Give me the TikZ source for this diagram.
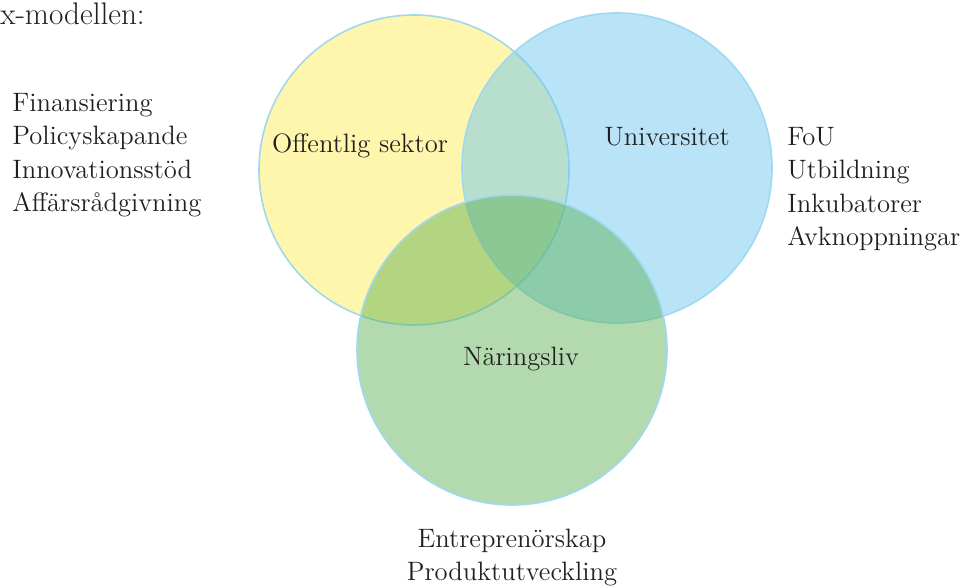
\documentclass[tikz,border=0pt]{standalone}
\usepackage{tikz}
\definecolor{gulfarg}{RGB}{255,246,174}
\definecolor{blafarg}{RGB}{106,198,240}
\definecolor{gronfarg}{RGB}{90,175,79}
\definecolor{kantfarg}{RGB}{160,216,242}
\definecolor{textfarg}{RGB}{35,31,32}
\begin{document}
\begin{tikzpicture}[x=0.5pt,y=-0.5pt,
  sfar/.style={circle,minimum size=155pt,inner sep=0pt,draw=kantfarg,line width=0.8pt},
  etikett/.style={inner sep=0pt,text=textfarg,font=\fontsize{13.3}{16.75}\selectfont},
  lista/.style={etikett,align=left,anchor=base west}]

\useasboundingbox (0,0) rectangle (964,587);
\node [sfar,fill=gulfarg] (off) at (414,170) {};
\node [sfar,fill=blafarg,fill opacity=0.47] (uni) at (617,168) {};
\node [sfar,fill=gronfarg,fill opacity=0.46] (nar) at (512,350) {};

\node [etikett,anchor=base] (offtext) at (360,153) {Offentlig sektor};
\node [etikett,anchor=base] (unitext) at (667,146) {Universitet};
\node [etikett,anchor=base] (nartext) at (521,366) {Näringsliv};

\node [etikett,anchor=base west,font=\fontsize{15.6}{19}\selectfont] (rubrik) at (0,25) {x-modellen:};
% baslinjen ligger vid sista raden
\node [lista] (vanster) at (12,212) {Finansiering\\Policyskapande\\Innovationsstöd\\Affärsrådgivning};
\node [lista] (hoger) at (787,246) {FoU\\Utbildning\\Inkubatorer\\Avknoppningar};
\node [etikett,align=center,anchor=base] (under) at (512,581) {Entreprenörskap\\Produktutveckling};
\end{tikzpicture}
\end{document}
